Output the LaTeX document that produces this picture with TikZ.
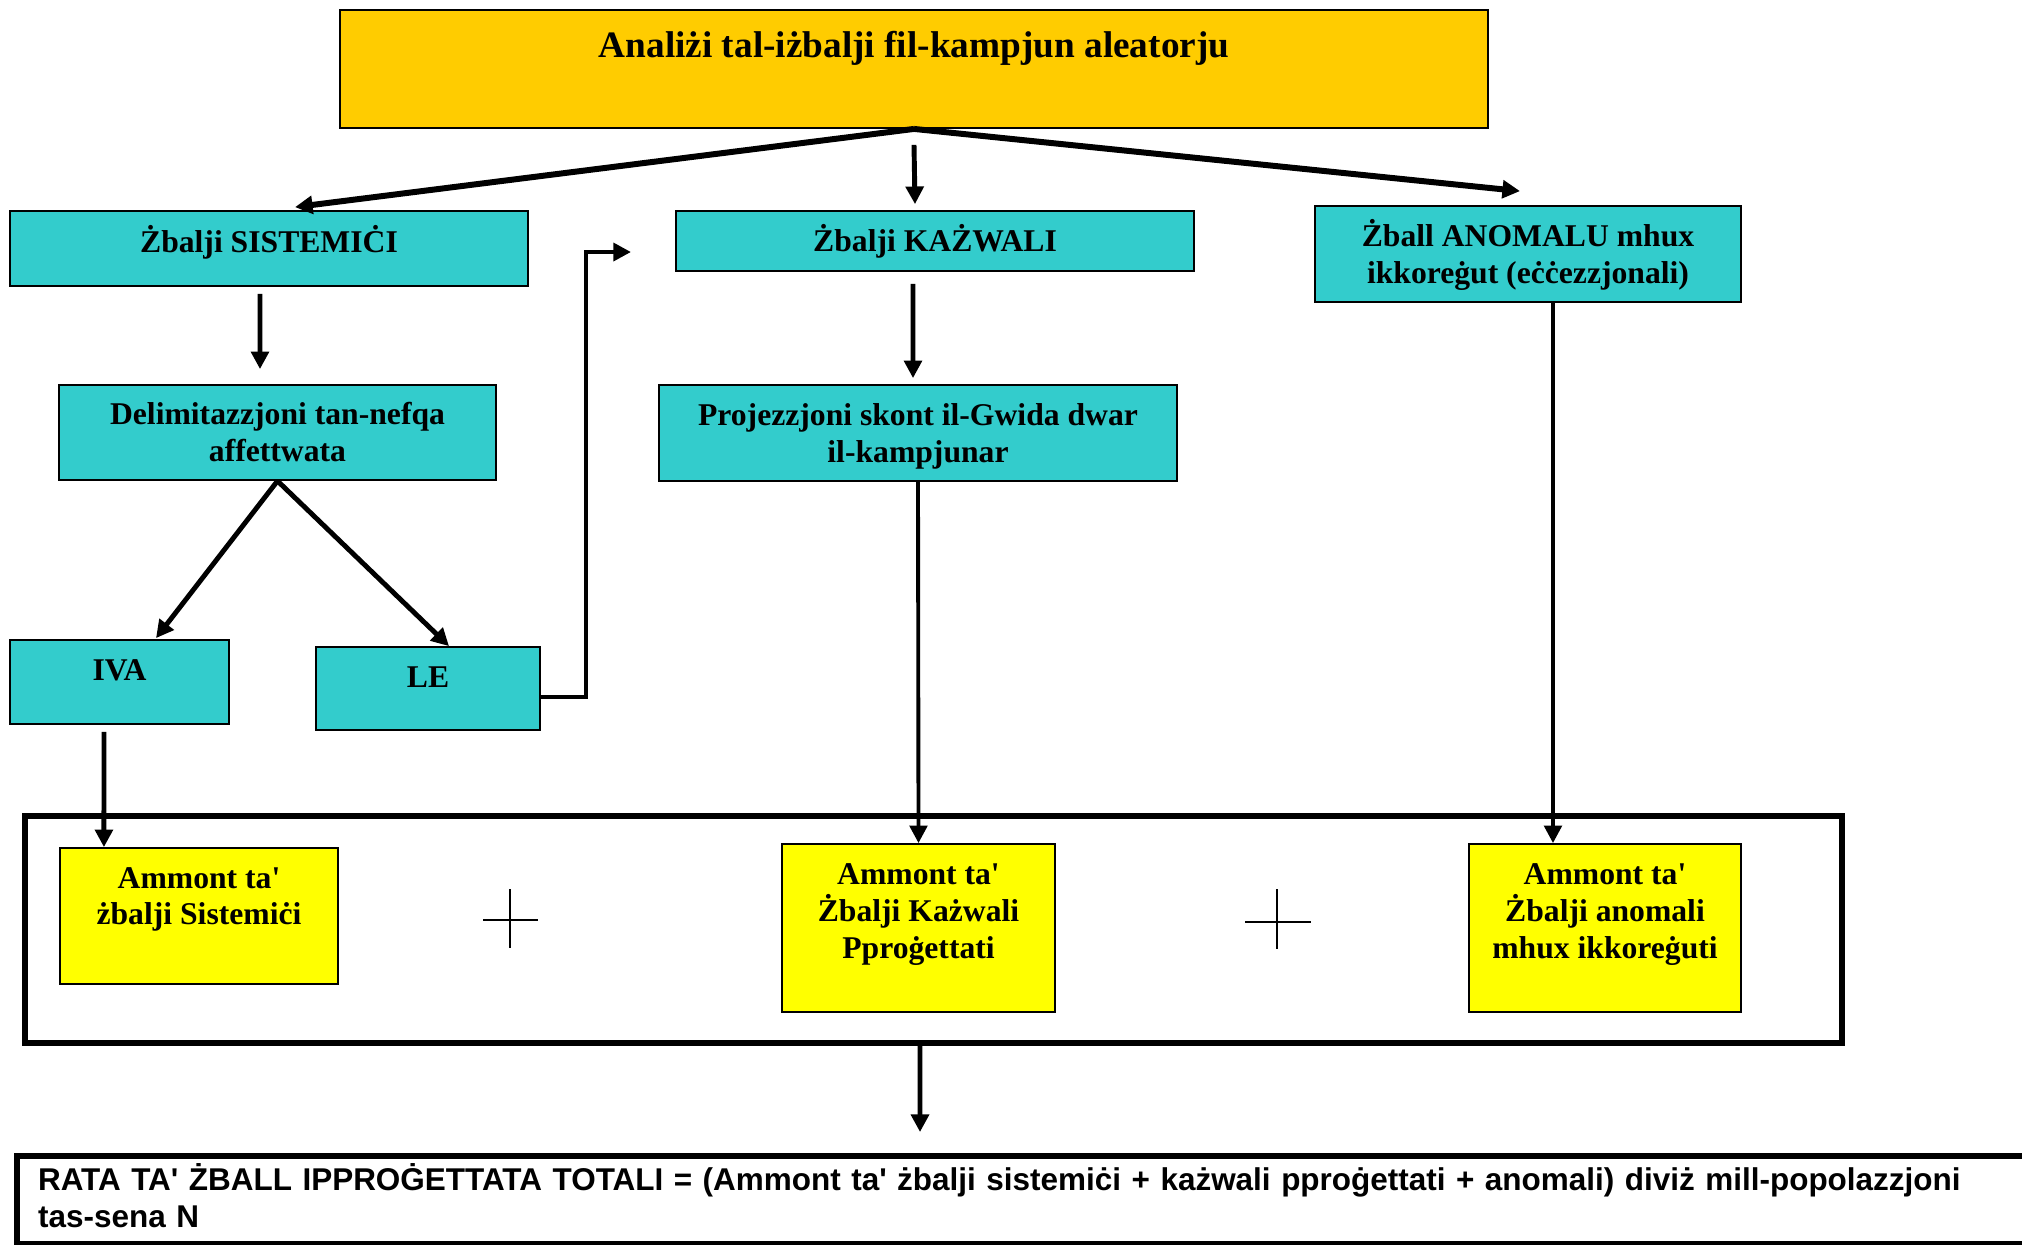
\documentclass[tikz,border=0pt]{standalone}
\usepackage{fontspec}
\setmainfont{Liberation Serif}[Ligatures=TeXOff]
\setsansfont{Liberation Sans}[Ligatures=TeXOff]
\usetikzlibrary{arrows.meta}

\definecolor{boxgold}{HTML}{FFCC00}
\definecolor{boxcyan}{HTML}{33CCCC}
\definecolor{boxyellow}{HTML}{FFFF00}

\tikzset{
  flowbox/.style={draw, line width=0.5pt, inner sep=0pt, align=center,
    font=\bfseries\fontsize{9}{10.5}\selectfont, text height=6pt},
  cyanbox/.style={flowbox, fill=boxcyan},
  amountbox/.style={flowbox, fill=boxyellow},
  arr/.style={-{Triangle[length=5pt,width=5pt]}, line width=1.4pt},
  heavyarr/.style={arr, line width=1.7pt},
  longarr/.style={arr, line width=1.1pt},
  plusmark/.style={line width=0.6pt},
}

\begin{document}
\begin{tikzpicture}[x=0.01cm, y=-0.01cm]
		\useasboundingbox (0,0) rectangle (2022,1244);
		
		\node[flowbox, fill=boxgold, minimum width=11.48cm, minimum height=1.18cm,
			font=\bfseries\fontsize{10.6}{12}\selectfont, text height=7pt, text depth=13.7pt]
			(anal) at (914,69) {Analiżi tal-iżbalji fil-kampjun aleatorju};
		
		\node[cyanbox, minimum width=5.18cm, minimum height=0.75cm, text depth=4pt]
			(sys) at (269,248.5) {Żbalji SISTEMIĊI};
		\node[cyanbox, minimum width=5.18cm, minimum height=0.60cm, text depth=0pt]
			(kaz) at (935,241) {Żbalji KAŻWALI};
		\node[cyanbox, minimum width=4.26cm, minimum height=0.96cm, text height=16.5pt, text depth=0pt]
			(anom) at (1528,254) {Żball ANOMALU mhux\\ikkoreġut (eċċezzjonali)};
		
		\node[cyanbox, minimum width=4.37cm, minimum height=0.95cm, text height=16.5pt, text depth=0pt]
			(delim) at (277.5,432.5) {Delimitazzjoni tan-nefqa\\affettwata};
		\node[cyanbox, minimum width=5.18cm, minimum height=0.96cm, text height=16.5pt, text depth=0pt]
			(proj) at (918,433) {Projezzjoni skont il-Gwida dwar\\il-kampjunar};
		
		\node[cyanbox, minimum width=2.19cm, minimum height=0.84cm, text depth=6.8pt]
			(iva) at (119.5,682) {IVA};
		\node[cyanbox, minimum width=2.24cm, minimum height=0.83cm, text depth=6.3pt]
			(le) at (428,688.5) {LE};
		
		\node[draw, line width=1.7pt, minimum width=18.15cm, minimum height=2.27cm]
			(sumframe) at (933.5,929.5) {};
		
		\node[amountbox, minimum width=2.78cm, minimum height=1.36cm, text height=16.5pt, text depth=11.4pt]
			(amsys) at (199,916) {Ammont ta'\\żbalji Sistemiċi};
		\node[amountbox, minimum width=2.73cm, minimum height=1.68cm, text height=27pt, text depth=9.7pt]
			(amkaz) at (918.5,928) {Ammont ta'\\Żbalji Każwali\\Pproġettati};
		\node[amountbox, minimum width=2.72cm, minimum height=1.68cm, text height=27pt, text depth=9.7pt]
			(amanom) at (1605,928) {Ammont ta'\\Żbalji anomali\\mhux ikkoreġuti};
		
		\draw[plusmark] (483,920) -- (538,920) (510,889) -- (510,948);
		\draw[plusmark] (1245,922) -- (1311,922) (1277,889) -- (1277,949);
		
		\node[draw, line width=1.7pt, anchor=north west, inner xsep=6pt, inner ysep=0pt,
			minimum height=0.88cm, text width=567pt, align=left,
			font=\sffamily\bfseries\fontsize{8.95}{10.6}\selectfont, text height=6.45pt, text depth=11.8pt]
			(total) at (14,1153) {RATA TA' ŻBALL IPPROĠETTATA TOTALI = (Ammont ta' żbalji sistemiċi + każwali pproġettati + anomali) diviż mill-popolazzjoni\\tas-sena N};
		
		\coordinate (lebend) at (586,252);
		\coordinate (lein) at (631,252);
		\coordinate (sumin) at (920,1132);
		
		\draw[heavyarr] (anal.south) -- ([xshift=0.26cm,yshift=0.03cm]sys.north);
		\draw[arr] ([yshift=-0.16cm]anal.south) -- ([xshift=-0.2cm,yshift=0.06cm]kaz.north);
		\draw[heavyarr] (anal.south) -- ([xshift=-0.08cm,yshift=0.14cm]anom.north);
		
		\draw[arr] ([xshift=-0.09cm,yshift=-0.07cm]sys.south) -- ([xshift=-0.175cm,yshift=0.15cm]delim.north);
		\draw[arr] (delim.south) -- ([xshift=0.365cm,yshift=0.01cm]iva.north);
		\draw[arr] (delim.south) -- ([xshift=0.21cm]le.north);
		\draw[arr] ([yshift=-0.085cm]le.east) -| (lebend) -- (lein);
		
		\draw[arr] ([xshift=-0.22cm,yshift=-0.12cm]kaz.south) -- ([xshift=-0.05cm,yshift=0.06cm]proj.north);
		\draw[longarr] (proj.south) -- (amkaz.north);
		\draw[longarr] ([xshift=0.25cm]anom.south) -- ([xshift=-0.52cm]amanom.north);
		\draw[arr] ([xshift=-0.155cm,yshift=-0.07cm]iva.south) -- ([xshift=-0.95cm]amsys.north);
		
		\draw[arr] ([xshift=-0.135cm]sumframe.south) -- (sumin);
	\end{tikzpicture}
\end{document}
